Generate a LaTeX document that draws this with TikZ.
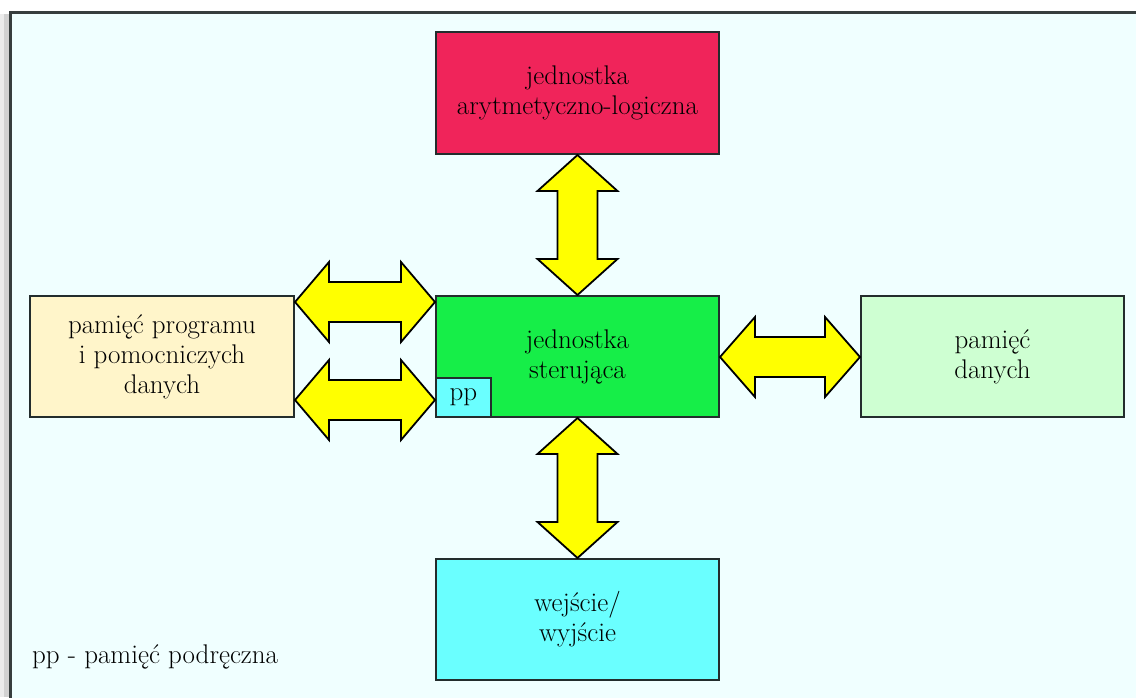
\documentclass[tikz,border=0pt]{standalone}
\usepackage{fontspec}
\usetikzlibrary{calc}

\definecolor{pagebg}{RGB}{240,255,255}
\definecolor{framec}{RGB}{55,62,62}
\definecolor{edgec}{RGB}{35,45,45}
\definecolor{alured}{RGB}{240,36,90}
\definecolor{cugreen}{RGB}{22,238,72}
\definecolor{progyellow}{RGB}{255,245,202}
\definecolor{datagreen}{RGB}{206,255,210}
\definecolor{iocyan}{RGB}{106,255,255}
\definecolor{busyellow}{RGB}{255,255,0}

\tikzset{
  unit/.style={draw=edgec, line width=2pt, align=center,
    font=\fontsize{27}{30}\selectfont, inner sep=0pt},
  bus/.style={draw=black, fill=busyellow, line width=1.8pt, line join=miter},
}

% vertical two-headed bus from #1.south to #2.north
\newcommand\vbus[2]{%
  \path (#1.south) coordinate (t1) (#2.north) coordinate (t2);
  \draw[bus] (t1) -- ($(t1)+(40,36)$) -- ($(t1)+(20,36)$) -- ($(t2)+(20,-36)$)
    -- ($(t2)+(40,-36)$) -- (t2) -- ($(t2)+(-40,-36)$) -- ($(t2)+(-20,-36)$)
    -- ($(t1)+(-20,36)$) -- ($(t1)+(-40,36)$) -- cycle;}
% horizontal two-headed bus between coordinates #1 (left) and #2 (right)
\newcommand\hbus[3]{%
  \draw[bus] (#1) -- ($(#1)+(#3,-40)$) -- ($(#1)+(#3,-20)$) -- ($(#2)+(-#3,-20)$)
    -- ($(#2)+(-#3,-40)$) -- (#2) -- ($(#2)+(-#3,40)$) -- ($(#2)+(-#3,20)$)
    -- ($(#1)+(#3,20)$) -- ($(#1)+(#3,40)$) -- cycle;}

\begin{document}
\begin{tikzpicture}[x=1pt,y=-1pt]
\useasboundingbox (0,0) rectangle (1136,697);
\fill[white] (0,0) rectangle (1136,697);
% shadow and frame of the slide
\fill[gray!35] (3,14) rectangle (11,697);
\fill[gray!15] (0,14) rectangle (4,697);
\fill[pagebg] (10,12) rectangle (1150,710);
\draw[framec, line width=3pt] (10,710) -- (10,12) -- (1150,12);

% functional units
\node[unit, fill=alured, minimum width=283pt, minimum height=122pt]
  (alu) at (577.5,93) {jednostka\\arytmetyczno-logiczna};
\node[unit, fill=cugreen, minimum width=283pt, minimum height=121pt]
  (cu) at (577.5,356.5) {jednostka\\sterująca};
\node[unit, fill=progyellow, minimum width=264pt, minimum height=121pt]
  (prog) at (162,356.5) {pamięć programu\\i pomocniczych\\danych};
\node[unit, fill=datagreen, minimum width=263pt, minimum height=121pt]
  (data) at (992.5,356.5) {pamięć\\danych};
\node[unit, fill=iocyan, minimum width=283pt, minimum height=121pt]
  (io) at (577.5,619.5) {wejście/\\wyjście};
\node[unit, fill=iocyan, minimum width=55pt, minimum height=39pt,
  anchor=south west, line width=1.6pt] (pp) at (cu.south west) {pp};

% buses
\vbus{alu}{cu}
\vbus{cu}{io}
\coordinate (pa) at ($(prog.east)+(0,-54.5)$);
\coordinate (pb) at ($(cu.west)+(0,-54.5)$);
\hbus{pa}{pb}{34}
\coordinate (qa) at ($(prog.east)+(0,43.5)$);
\coordinate (qb) at ($(cu.west)+(0,43.5)$);
\hbus{qa}{qb}{34}
\coordinate (ra) at ($(cu.east)+(0,0.5)$);
\coordinate (rb) at ($(data.west)+(0,0.5)$);
\hbus{ra}{rb}{35}

% legend
\node[anchor=west, font=\fontsize{27}{30}\selectfont, inner sep=0pt]
  (legend) at (32,657) {pp - pamięć podręczna};
\end{tikzpicture}
\end{document}
